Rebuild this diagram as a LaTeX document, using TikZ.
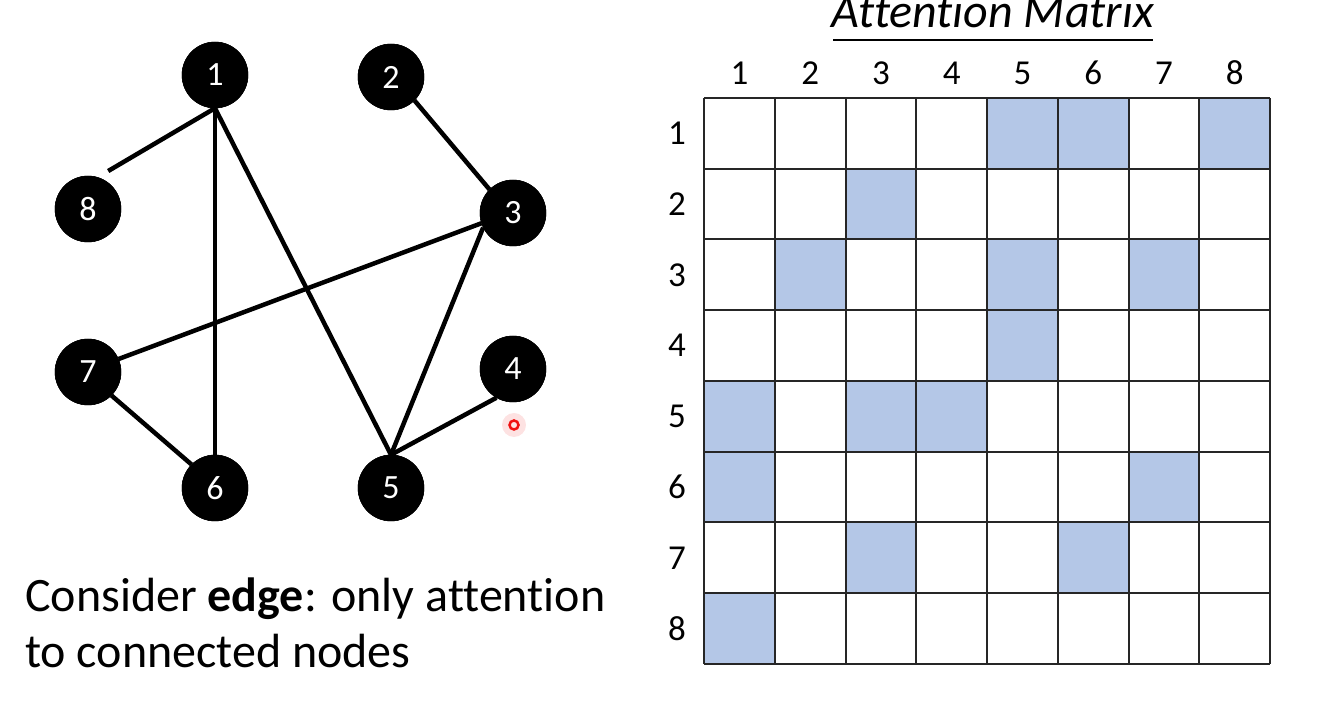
\documentclass[tikz,border=0pt]{standalone}
\usepackage{fontspec}
\setmainfont{Carlito}[Ligatures=NoCommon]
\usetikzlibrary{calc}
\definecolor{cellblue}{HTML}{B4C7E7}
\definecolor{laser}{HTML}{F01010}
\tikzset{
  gnode/.style={circle, fill=black, draw=black, minimum size=66pt, inner sep=0pt, text=white, font=\fontsize{34}{38}\selectfont},
  edgeline/.style={line width=4.5pt, black},
  gridline/.style={line width=2pt, black!85},
  lbl/.style={font=\fontsize{35}{40}\selectfont, inner sep=0pt},
}
\begin{document}
\begin{tikzpicture}[x=1pt,y=1pt]
\useasboundingbox (0,0) rectangle (1336,720);
% ---- graph nodes
\node[gnode] (n1) at (215,645) {1};
\node[gnode] (n2) at (391,643) {2};
\node[gnode] (n8) at (88,511) {8};
\node[gnode] (n3) at (513,507) {3};
\node[gnode] (n7) at (88,348) {7};
\node[gnode] (n4) at (513,351) {4};
\node[gnode] (n6) at (215,232) {6};
\node[gnode] (n5) at (391,232) {5};
% ---- edges
\draw[edgeline] (n1.south) -- ($(n8.center)+(62:43)$);
\draw[edgeline] (n1.south) -- (n6.north);
\draw[edgeline] (n1.south) -- (n5.north);
\draw[edgeline] (n2.-45) -- (n3.135);
\draw[edgeline] (n3.198) -- (n7.23);
\draw[edgeline] (n3.206) -- (n5.north);
\draw[edgeline] (n7.-45) -- (n6.135);
\draw[edgeline] (n5.north) -- (n4.240);
% redraw nodes on top
\foreach \n/\t in {n1/1,n2/2,n3/3,n4/4,n5/5,n6/6,n7/7,n8/8}{
  \node[gnode] at (\n.center) {\t};
}
% ---- laser pointer dot
\fill[laser, opacity=0.12] (514,295) circle (12);
\draw[laser, line width=2.5pt] (514,295) circle (4.5);
% ---- matrix cells
\foreach \r/\c in {1/5,1/6,1/8,2/3,3/2,3/5,3/7,4/5,5/1,5/3,5/4,6/1,6/7,7/3,7/6,8/1}{
  \fill[cellblue] ({704+(\c-1)*70.75},{622-(\r-1)*70.75}) rectangle ++(70.75,-70.75);
}
\foreach \i in {0,...,8}{
  \draw[gridline] ({704+\i*70.75},56) -- ({704+\i*70.75},622);
  \draw[gridline] (704,{56+\i*70.75}) -- (1270,{56+\i*70.75});
}
\foreach \i in {1,...,8}{
  \node[lbl] (c\i) at ({704+(\i-0.5)*70.75},647) {\i};
  \node[lbl] (r\i) at (677,{622-(\i-0.5)*70.75}) {\i};
}
% ---- title
\node[font=\fontsize{48}{56}\selectfont\itshape, anchor=base, inner sep=0pt] (title) at (993,692) {Attention Matrix};
\coordinate (ulA) at (833,680);
\coordinate (ulB) at (1153,680);
\draw[line width=1.5pt] (ulA) -- (ulB);
% ---- caption
\node[anchor=base west, align=left, inner sep=0pt, font=\fontsize{48}{56}\selectfont] (cap) at (25,52) {Consider \textbf{edge}: only attention\\to connected nodes};
\end{tikzpicture}
\end{document}
